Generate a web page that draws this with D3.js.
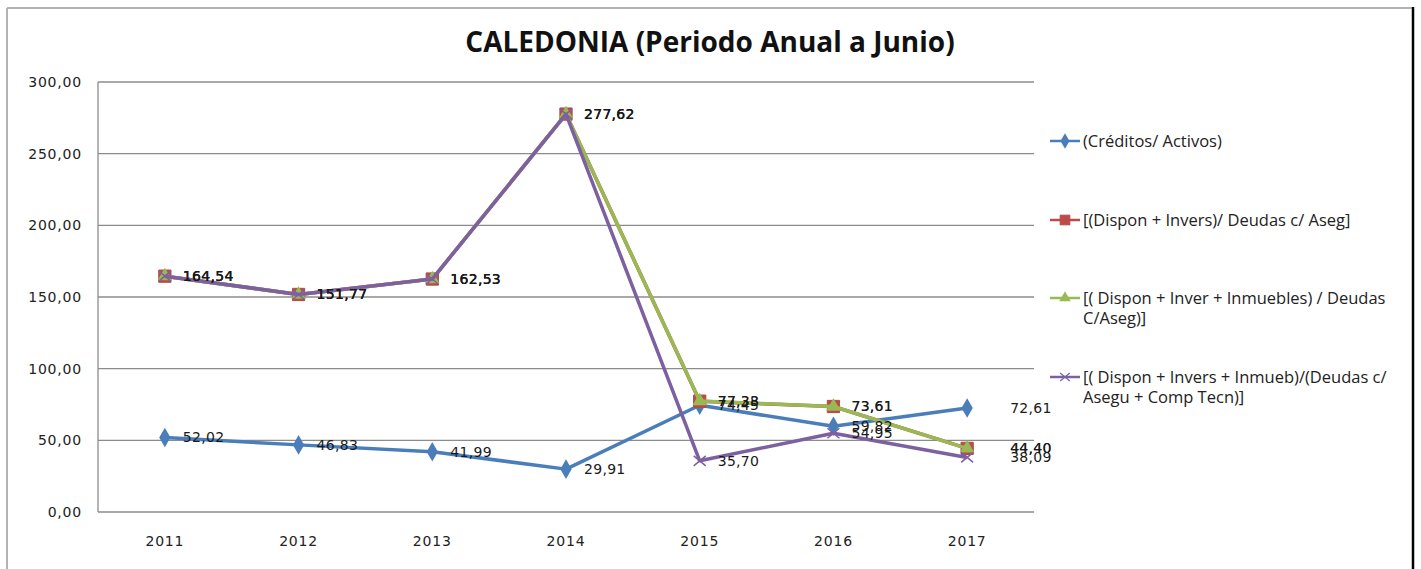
<!DOCTYPE html>
<html>
<head>
<meta charset="utf-8">
<script src="https://cdn.jsdelivr.net/npm/d3@7"></script>
<style>
  body { margin: 0; background: #fff; }
  svg { display: block; }
</style>
</head>
<body>
<svg id="chart" width="1421" height="569"></svg>
<script>
var years = ['2011', '2012', '2013', '2014', '2015', '2016', '2017'];
var yTicks = [0, 50, 100, 150, 200, 250, 300];

var creditosActivos = [52.02, 46.83, 41.99, 29.91, 74.45, 59.82, 72.61];
var disponInvers = [164.54, 151.77, 162.53, 277.62, 77.33, 73.61, 44.40];
var disponInverInmuebles = [164.54, 151.77, 162.53, 277.62, 77.38, 73.61, 44.40];
var disponInmuebComp = [164.54, 151.77, 162.53, 277.62, 35.70, 54.95, 38.09];

var seriesNames = [
  ['(Créditos/ Activos)'],
  ['[(Dispon + Invers)/ Deudas c/ Aseg]'],
  ['[( Dispon + Inver + Inmuebles) / Deudas', 'C/Aseg)]'],
  ['[( Dispon + Invers + Inmueb)/(Deudas c/', 'Asegu + Comp Tecn)]']
];

var series = [
  { name: seriesNames[0], values: creditosActivos, color: '#4a7ebb', marker: 'diamond' },
  { name: seriesNames[1], values: disponInvers, color: '#be4b48', marker: 'square' },
  { name: seriesNames[2], values: disponInverInmuebles, color: '#98b954', marker: 'triangle' },
  { name: seriesNames[3], values: disponInmuebComp, color: '#7d60a0', marker: 'cross' }
];

var svg = d3.select('#chart');
var fmt = function(v) { return d3.format('.2f')(v).replace('.', ','); };

// chart frame
svg.append('line').attr('x1', 7).attr('y1', 8).attr('x2', 1414).attr('y2', 8)
  .attr('stroke', '#b3b3b3').attr('stroke-width', 2);
svg.append('line').attr('x1', 7).attr('y1', 8).attr('x2', 7).attr('y2', 569)
  .attr('stroke', '#b3b3b3').attr('stroke-width', 2);
svg.append('line').attr('x1', 1413).attr('y1', 7).attr('x2', 1413).attr('y2', 569)
  .attr('stroke', '#000').attr('stroke-width', 2.5);

svg.append('text')
  .attr('x', 710).attr('y', 52)
  .attr('text-anchor', 'middle')
  .attr('font-family', 'Open Sans, sans-serif')
  .attr('font-weight', 'bold')
  .attr('font-size', 28)
  .attr('fill', '#111')
  .text('CALEDONIA (Periodo Anual a Junio)');

var plot = { left: 98, right: 1034, top: 82, bottom: 512 };

var x = d3.scaleBand().domain(years).range([plot.left, plot.right]);
var y = d3.scaleLinear().domain([0, 300]).range([plot.bottom, plot.top]);
var cx = function(i) { return x(years[i]) + x.bandwidth() / 2; };

// gridlines
svg.append('g')
  .selectAll('line')
  .data(yTicks)
  .join('line')
  .attr('x1', plot.left).attr('x2', plot.right)
  .attr('y1', function(d) { return y(d); })
  .attr('y2', function(d) { return y(d); })
  .attr('stroke', '#8c8c8c').attr('stroke-width', 1.3);

svg.append('line')
  .attr('x1', plot.left).attr('x2', plot.left)
  .attr('y1', plot.top).attr('y2', plot.bottom)
  .attr('stroke', '#8c8c8c').attr('stroke-width', 1.3);

var yAxis = svg.append('g')
  .attr('transform', 'translate(' + plot.left + ',0)')
  .call(d3.axisLeft(y).tickValues(yTicks).tickFormat(fmt).tickSize(0).tickPadding(16));
yAxis.select('.domain').remove();
yAxis.selectAll('text')
  .attr('font-family', 'DejaVu Sans, sans-serif')
  .attr('font-size', 14)
  .attr('letter-spacing', 0.8)
  .attr('fill', '#222');

var xAxis = svg.append('g')
  .attr('transform', 'translate(0,' + plot.bottom + ')')
  .call(d3.axisBottom(x).tickSize(0).tickPadding(24));
xAxis.select('.domain').remove();
xAxis.selectAll('text')
  .attr('font-family', 'DejaVu Sans, sans-serif')
  .attr('font-size', 14)
  .attr('letter-spacing', 0.8)
  .attr('fill', '#222');

function markerPath(type) {
  if (type === 'diamond') return d3.symbol(d3.symbolDiamond, 110)();
  if (type === 'square') return d3.symbol(d3.symbolSquare, 150)();
  if (type === 'triangle') return d3.symbol(d3.symbolTriangle, 90)();
  return 'M-6,-5L6,5M-6,5L6,-5';
}

function drawMarker(sel, s) {
  if (s.marker === 'cross') {
    sel.attr('d', markerPath('cross')).attr('fill', 'none')
      .attr('stroke', s.color).attr('stroke-width', 1.5);
  } else {
    sel.attr('d', markerPath(s.marker)).attr('fill', s.color)
      .attr('stroke', s.marker === 'square' ? '#b04a46' : 'none');
  }
}

var line = d3.line()
  .x(function(d, i) { return cx(i); })
  .y(function(d) { return y(d); });

series.forEach(function(s) {
  var g = svg.append('g').attr('class', 'series');
  g.append('path')
    .datum(s.values)
    .attr('d', line)
    .attr('fill', 'none')
    .attr('stroke', s.color)
    .attr('stroke-width', 3.5)
    .attr('stroke-linejoin', 'round');
  g.selectAll('path.mk')
    .data(s.values)
    .join('path')
    .attr('class', 'mk')
    .attr('transform', function(d, i) { return 'translate(' + cx(i) + ',' + y(d) + ')'; })
    .call(drawMarker, s);
});

// data labels (last column's labels were dragged further right in the original)
series.forEach(function(s) {
  svg.append('g')
    .selectAll('text')
    .data(s.values)
    .join('text')
    .attr('x', function(d, i) { return cx(i) + (i === years.length - 1 ? 43 : 18); })
    .attr('y', function(d) { return y(d) + 5; })
    .attr('font-family', 'DejaVu Sans, sans-serif')
    .attr('font-size', 14)
    .attr('letter-spacing', 0.3)
    .attr('fill', '#1a1a1a')
    .text(fmt);
});

// legend
var legendY = [141, 220, 298, 377];
var legend = svg.append('g');
series.forEach(function(s, i) {
  var g = legend.append('g').attr('transform', 'translate(0,' + legendY[i] + ')');
  g.append('line').attr('x1', 1050).attr('x2', 1080).attr('y1', 0).attr('y2', 0)
    .attr('stroke', s.color).attr('stroke-width', 2.5);
  g.append('path').attr('transform', 'translate(1065,0) scale(0.8)').call(drawMarker, s);
  g.append('text')
    .attr('x', 1083).attr('y', 6)
    .attr('font-family', 'Open Sans, sans-serif')
    .attr('font-size', 16.5)
    .attr('fill', '#222')
    .selectAll('tspan')
    .data(s.name)
    .join('tspan')
    .attr('x', 1083)
    .attr('dy', function(d, j) { return j ? 20 : 0; })
    .text(function(d) { return d; });
});
</script>
</body>
</html>
